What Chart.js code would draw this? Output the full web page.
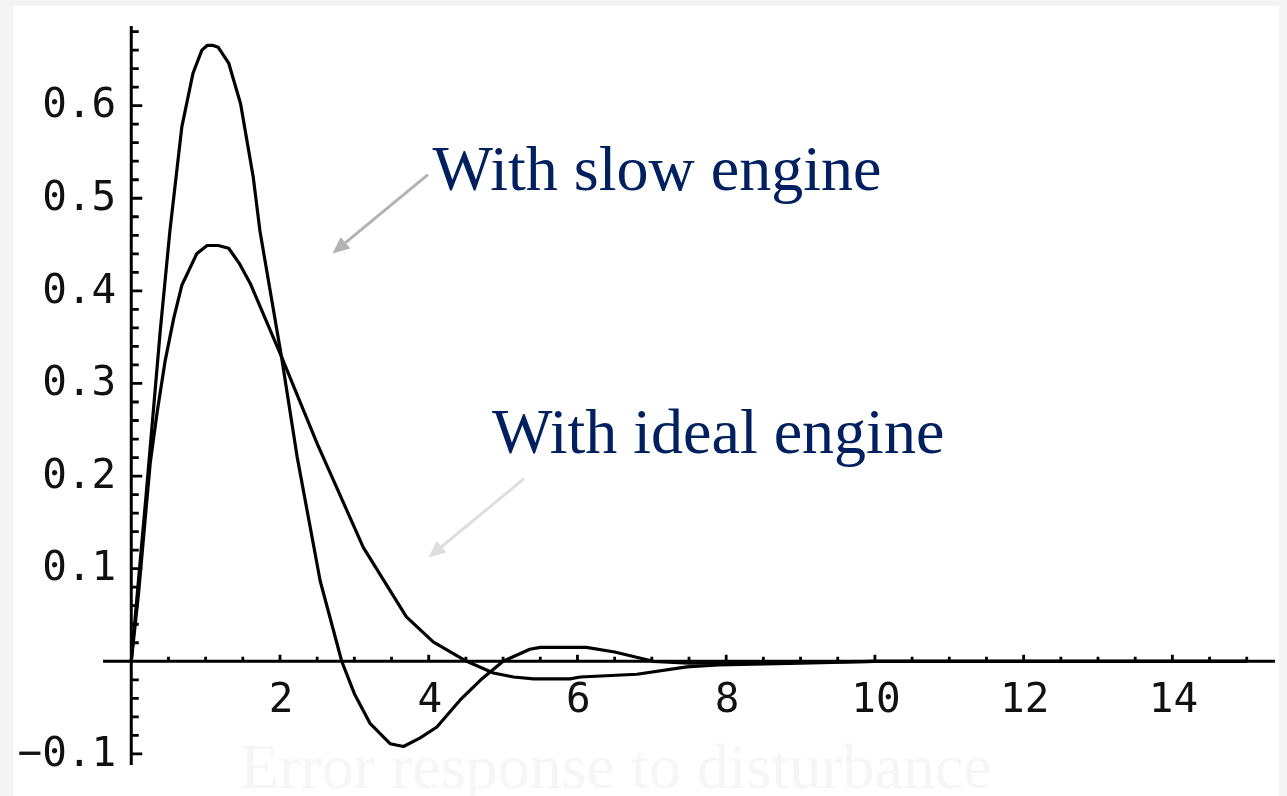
<!DOCTYPE html>
<html>
<head>
<meta charset="utf-8">
<script src="https://cdn.jsdelivr.net/npm/chart.js@4.4.1/dist/chart.umd.min.js"></script>
<style>
  html, body { margin: 0; padding: 0; background: #f4f4f4; overflow: hidden; }
  #panel { position: absolute; left: 13px; top: 6px; width: 1266px; height: 790px; background: #fff; }
  #my-chart { position: absolute; left: 0; top: 0; }
</style>
</head>
<body>
<div id="panel"></div>
<canvas id="my-chart" width="1287" height="796"></canvas>
<script>
// time (s) and error values
const timeSlow = [0, 0.1, 0.2, 0.39, 0.52, 0.68, 0.83, 0.95, 1.02, 1.1, 1.17, 1.31, 1.47, 1.64, 1.73, 1.96, 2.02, 2.23, 2.54, 2.83, 3.0, 3.21, 3.48, 3.66, 3.88, 4.11, 4.42, 4.7, 5.0, 5.36, 5.5, 6.12, 6.5, 7.02, 7.5, 8.0, 9.0, 10, 15];
const errorSlow = [0, 0.09, 0.18, 0.357, 0.465, 0.577, 0.635, 0.66, 0.665, 0.665, 0.663, 0.646, 0.602, 0.523, 0.465, 0.357, 0.329, 0.221, 0.087, 0, -0.035, -0.067, -0.089, -0.092, -0.083, -0.071, -0.042, -0.02, 0, 0.013, 0.015, 0.015, 0.01, 0, -0.002, -0.002, -0.001, 0, 0];

const timeIdeal = [0, 0.1, 0.21, 0.255, 0.35, 0.457, 0.57, 0.68, 0.88, 1.02, 1.17, 1.31, 1.45, 1.6, 2.02, 2.5, 3.12, 3.7, 4.06, 4.51, 4.87, 5.14, 5.41, 5.9, 6.04, 6.8, 7.47, 7.9, 9.0, 10, 15];
const errorIdeal = [0, 0.075, 0.174, 0.214, 0.27, 0.325, 0.37, 0.406, 0.44, 0.449, 0.449, 0.446, 0.43, 0.408, 0.329, 0.235, 0.123, 0.048, 0.021, 0, -0.0126, -0.017, -0.019, -0.019, -0.017, -0.014, -0.006, -0.004, -0.002, 0, 0];

const xTickLabels = [2, 4, 6, 8, 10, 12, 14];
const yTickLabels = [-0.1, 0.1, 0.2, 0.3, 0.4, 0.5, 0.6];

// annotation texts with their arrows (data units)
const notes = [
  { text: 'With slow engine', at: [4.05, 0.509], from: [3.99, 0.5256], to: [2.705, 0.4403], arrow: '#b3b3b3' },
  { text: 'With ideal engine', at: [4.85, 0.2246], from: [5.282, 0.1973], to: [3.996, 0.112], arrow: '#dedede' }
];
const caption = 'Error response to disturbance';

const toPoints = (ts, ys) => ts.map((t, i) => ({ x: t, y: ys[i] }));

// axes crossing at the origin, ticks on the inner side
const crossAxes = {
  id: 'crossAxes',
  beforeDatasetsDraw(chart) {
    const { ctx, chartArea, scales: { x, y } } = chart;
    const x0 = x.getPixelForValue(0);
    const y0 = y.getPixelForValue(0);
    ctx.save();
    ctx.strokeStyle = '#000';
    ctx.lineWidth = 3;
    ctx.beginPath();
    ctx.moveTo(chartArea.left, y0);
    ctx.lineTo(chartArea.right, y0);
    ctx.moveTo(x0, chartArea.top);
    ctx.lineTo(x0, chartArea.bottom);
    ctx.stroke();

    ctx.lineWidth = 2.8;
    ctx.beginPath();
    for (let i = 1; i <= 30; i++) {
      const px = x.getPixelForValue(i * 0.5);
      const len = i % 4 === 0 ? 6.5 : 4.5;
      ctx.moveTo(px, y0);
      ctx.lineTo(px, y0 - len);
    }
    for (let i = -5; i <= 34; i++) {
      if (i === 0) continue;
      const py = y.getPixelForValue(i * 0.02);
      const len = i % 5 === 0 ? 11 : 7.5;
      ctx.moveTo(x0, py);
      ctx.lineTo(x0 + len, py);
    }
    ctx.stroke();

    ctx.fillStyle = '#111';
    ctx.font = '41px "DejaVu Sans Mono"';
    ctx.textBaseline = 'middle';
    ctx.textAlign = 'center';
    xTickLabels.forEach(v => ctx.fillText(String(v), x.getPixelForValue(v) + 1, y0 + 40));
    ctx.textAlign = 'right';
    yTickLabels.forEach(v => {
      const label = (v < 0 ? '\u2212' : '') + Math.abs(v).toFixed(1);
      ctx.fillText(label, x0 - 15, y.getPixelForValue(v) + 1);
    });
    ctx.restore();
  },
  afterDatasetsDraw(chart) {
    const { ctx, scales: { x, y } } = chart;
    ctx.save();
    notes.forEach(n => {
      const sx = x.getPixelForValue(n.from[0]), sy = y.getPixelForValue(n.from[1]);
      const tx = x.getPixelForValue(n.to[0]), ty = y.getPixelForValue(n.to[1]);
      const ang = Math.atan2(ty - sy, tx - sx);
      const head = 17, half = 7.5;
      const bx = tx - head * Math.cos(ang), by = ty - head * Math.sin(ang);
      ctx.strokeStyle = n.arrow;
      ctx.fillStyle = n.arrow;
      ctx.lineWidth = 3;
      ctx.beginPath();
      ctx.moveTo(sx, sy);
      ctx.lineTo(bx, by);
      ctx.stroke();
      ctx.beginPath();
      ctx.moveTo(tx, ty);
      ctx.lineTo(bx + half * Math.sin(ang), by - half * Math.cos(ang));
      ctx.lineTo(bx - half * Math.sin(ang), by + half * Math.cos(ang));
      ctx.closePath();
      ctx.fill();

      ctx.fillStyle = '#002060';
      ctx.font = '64px "Liberation Serif"';
      ctx.textAlign = 'left';
      ctx.textBaseline = 'alphabetic';
      ctx.fillText(n.text, x.getPixelForValue(n.at[0]), y.getPixelForValue(n.at[1]));
    });
    // nearly invisible caption under the plot
    ctx.fillStyle = '#f6f6f6';
    ctx.font = '64px "Liberation Serif"';
    ctx.textAlign = 'left';
    ctx.fillText(caption, 240, 788);
    ctx.restore();
  }
};

const ctx = document.getElementById('my-chart').getContext('2d');

const chart = new Chart(ctx, {
  type: 'scatter',
  data: {
    datasets: [
      {
        label: 'With slow engine',
        data: toPoints(timeSlow, errorSlow),
        showLine: true,
        borderColor: '#000',
        borderWidth: 3.2,
        borderJoinStyle: 'round',
        pointRadius: 0,
        tension: 0
      },
      {
        label: 'With ideal engine',
        data: toPoints(timeIdeal, errorIdeal),
        showLine: true,
        borderColor: '#000',
        borderWidth: 3.2,
        borderJoinStyle: 'round',
        pointRadius: 0,
        tension: 0
      }
    ]
  },
  options: {
    responsive: false,
    animation: false,
    devicePixelRatio: 1,
    layout: { padding: { left: 103, right: 12, top: 26, bottom: 31 } },
    plugins: { legend: { display: false }, tooltip: { enabled: false } },
    scales: {
      x: { type: 'linear', min: -0.38, max: 15.38, display: false },
      y: { type: 'linear', min: -0.112, max: 0.686, display: false }
    }
  },
  plugins: [crossAxes]
});
</script>
</body>
</html>
